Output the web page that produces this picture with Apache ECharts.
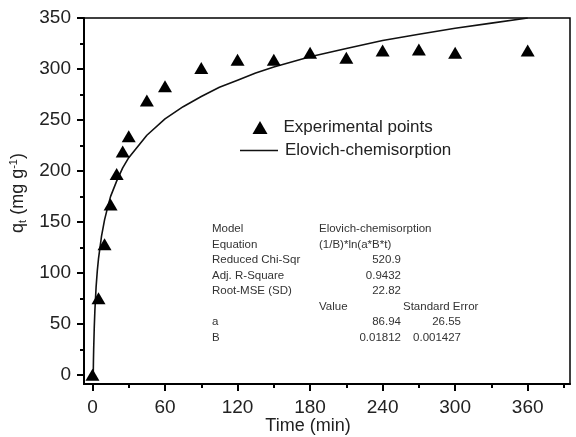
<!DOCTYPE html>
<html>
<head>
<meta charset="utf-8">
<script src="https://cdn.jsdelivr.net/npm/echarts@6/dist/echarts.min.js"></script>
<style>html,body{margin:0;padding:0;background:#fff}#c{width:576px;height:437px}</style>
</head>
<body>
<div id="c"></div>
<script>
// Experimental data (time in min, q_t in mg/g)
var expTime = [0, 5, 10, 15, 20, 25, 30, 45, 60, 90, 120, 150, 180, 210, 240, 270, 300, 360];
var expQ    = [0, 75, 128, 167, 197, 219, 234, 269, 283, 301, 309, 309, 316, 311, 318, 319, 316, 318];
// Elovich fit curve
var fitTime = [0.65, 0.8, 1, 1.5, 2, 3, 4, 5, 7.5, 10, 12.5, 15, 20, 25, 30, 45, 60, 75, 90, 105, 120, 135, 150, 180, 210, 240, 270, 300, 330, 360];
var fitQ    = [0, 13, 25, 47, 63, 86, 102, 114, 136, 152, 164, 175, 190, 203, 213, 235, 251, 263, 273, 282, 289, 296, 302, 312, 320, 328, 334, 340, 345, 350];
// Axis ticks
var xMajor = [0, 60, 120, 180, 240, 300, 360];
var xMinor = [30, 90, 150, 210, 270, 330, 390];
var yMajor = [0, 50, 100, 150, 200, 250, 300, 350];
var yMinor = [25, 75, 125, 175, 225, 275, 325];
// Fit statistics table
var tableLabels = ['Model', 'Equation', 'Reduced Chi-Sqr', 'Adj. R-Square', 'Root-MSE (SD)', '', 'a', 'B'];
var tableValues = ['Elovich-chemisorption', '(1/B)*ln(a*B*t)', '520.9', '0.9432', '22.82', 'Value', '86.94', '0.01812'];
var tableErrors = ['', '', '', '', '', 'Standard Error', '26.55', '0.001427'];

var FONT = "'Liberation Sans', Arial, sans-serif";
var chart = echarts.init(document.getElementById('c'));

function pairs(xs, ys) { return xs.map(function (x, i) { return [x, ys[i]]; }); }

var graphics = [];
var rowY0 = 229, rowDY = 15.5;
tableLabels.forEach(function (t, i) {
  var y = rowY0 + i * rowDY;
  if (t) graphics.push({type: 'text', x: 212, y: y, style: {text: t, font: '11.5px ' + FONT, fill: '#333', verticalAlign: 'middle'}});
  var v = tableValues[i];
  if (v) {
    if (i <= 1 || i === 5) {
      graphics.push({type: 'text', x: 319, y: y, style: {text: v, font: '11.5px ' + FONT, fill: '#333', verticalAlign: 'middle'}});
    } else {
      graphics.push({type: 'text', x: 401, y: y, style: {text: v, font: '11.5px ' + FONT, fill: '#333', align: 'right', verticalAlign: 'middle'}});
    }
  }
  var e = tableErrors[i];
  if (e) {
    if (i === 5) {
      graphics.push({type: 'text', x: 403, y: y, style: {text: e, font: '11.5px ' + FONT, fill: '#333', verticalAlign: 'middle'}});
    } else {
      graphics.push({type: 'text', x: 461, y: y, style: {text: e, font: '11.5px ' + FONT, fill: '#333', align: 'right', verticalAlign: 'middle'}});
    }
  }
});
// axis titles
graphics.push({type: 'text', x: 308, y: 426, style: {text: 'Time (min)', font: '18px ' + FONT, fill: '#222', align: 'center', verticalAlign: 'middle'}});
graphics.push({
  type: 'text', x: 18, y: 193, rotation: Math.PI / 2,
  style: {
    text: '{n|q}{s|t}{n| (mg g}{p|-1}{n|)}',
    align: 'center', verticalAlign: 'middle',
    rich: {
      n: {font: '18px ' + FONT, fill: '#222'},
      s: {font: '11px ' + FONT, fill: '#222', padding: [9, 0, 0, 0]},
      p: {font: '11px ' + FONT, fill: '#222', padding: [0, 0, 9, 0]}
    }
  }
});

var axisLabelStyle = {color: '#222', fontSize: 19, fontFamily: FONT};

chart.setOption({
  animation: false,
  backgroundColor: '#fff',
  grid: {left: 84, right: 6, top: 18, bottom: 53, show: true, borderColor: '#000', borderWidth: 1.5, backgroundColor: 'transparent'},
  legend: [
    {data: [{name: 'Experimental points', icon: 'triangle'}], left: 252.5, top: 119, padding: 0, itemWidth: 15, itemHeight: 13,
     textStyle: {fontSize: 17, fontFamily: FONT, color: '#222', padding: [0, 0, 0, 11]}, selectedMode: false},
    {data: [{name: 'Elovich-chemisorption', icon: 'rect'}], left: 240, top: 142, padding: 0, itemWidth: 38, itemHeight: 1.6,
     textStyle: {fontSize: 17, fontFamily: FONT, color: '#222', padding: [0, 0, 0, 2]}, selectedMode: false}
  ],
  xAxis: [
    {type: 'value', min: -7, max: 395, position: 'bottom',
     axisLine: {show: true, onZero: false, lineStyle: {color: '#000', width: 2}},
     axisTick: {show: true, customValues: xMajor, length: 7, lineStyle: {color: '#000', width: 2}},
     axisLabel: {customValues: xMajor, margin: 14, ...axisLabelStyle},
     splitLine: {show: false}},
    {type: 'value', min: -7, max: 395, position: 'bottom', offset: 0,
     axisLine: {show: false, onZero: false},
     axisTick: {show: true, customValues: xMinor, length: 4, lineStyle: {color: '#000', width: 2}},
     axisLabel: {show: false}, splitLine: {show: false}}
  ],
  yAxis: [
    {type: 'value', min: -9, max: 350, position: 'left',
     axisLine: {show: true, onZero: false, lineStyle: {color: '#000', width: 2}},
     axisTick: {show: true, customValues: yMajor, length: 7, lineStyle: {color: '#000', width: 2}},
     axisLabel: {customValues: yMajor, margin: 13, ...axisLabelStyle},
     splitLine: {show: false}},
    {type: 'value', min: -9, max: 350, position: 'left', offset: 0,
     axisLine: {show: false, onZero: false},
     axisTick: {show: true, customValues: yMinor, length: 4, lineStyle: {color: '#000', width: 2}},
     axisLabel: {show: false}, splitLine: {show: false}}
  ],
  series: [
    {name: 'Elovich-chemisorption', type: 'line', data: pairs(fitTime, fitQ), symbol: 'none', smooth: false,
     lineStyle: {color: '#111', width: 1.6}, itemStyle: {color: '#111'}, z: 2},
    {name: 'Experimental points', type: 'scatter', data: pairs(expTime, expQ), symbol: 'triangle', symbolSize: [14, 12],
     itemStyle: {color: '#000', opacity: 1}, z: 3}
  ],
  graphic: graphics
});
</script>
</body>
</html>
